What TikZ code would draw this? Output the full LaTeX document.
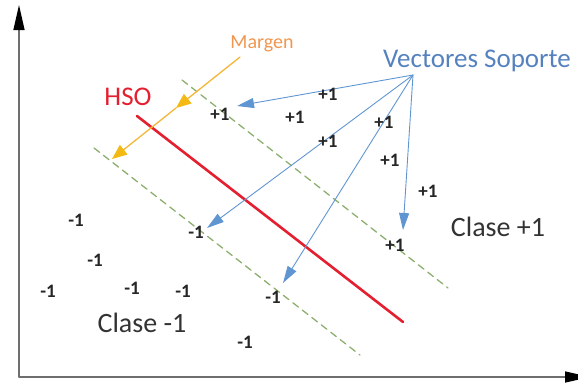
\documentclass[tikz,border=0pt]{standalone}
\usepackage{fontspec}
\setmainfont{Carlito}
\usetikzlibrary{arrows.meta}

\definecolor{rojo}{RGB}{228,32,48}
\definecolor{naranja}{RGB}{240,150,80}
\definecolor{amarillo}{RGB}{245,185,20}
\definecolor{azul}{RGB}{95,150,210}
\definecolor{azultxt}{RGB}{85,130,190}
\definecolor{verde}{RGB}{140,175,110}
\definecolor{gris}{RGB}{110,110,110}

\tikzset{
  etiq/.style={font=\fontsize{19}{21}\selectfont\bfseries, text=black!85, inner sep=1pt},
  clase/.style={font=\fontsize{28}{30}\selectfont, text=black!80},
  vector/.style={azul, line width=0.9pt, -{Triangle[length=17pt,width=10pt]}},
  margen/.style={naranja!70!yellow, line width=1.3pt, -{Triangle[length=15pt,width=12pt,color=amarillo]}},
  frontera/.style={verde, line width=1.3pt, dash pattern=on 7pt off 5pt}
}

\begin{document}
\begin{tikzpicture}[line cap=round,line join=round,x=1pt,y=-1pt]
	\useasboundingbox (0,0) rectangle (578,383);
	%ejes
	\coordinate (O) at (19,377);
	\coordinate (Y) at (19,5);
	\coordinate (X) at (590,377);
	\draw[gris, line width=1.3pt, -{Triangle[length=25pt,width=11pt,color=black]}] (O)--(Y);
	\draw[gris, line width=1.3pt, -{Triangle[length=25pt,width=11pt,color=black]}] (O)--(X);
	%fronteras del margen
	\coordinate (Fa) at (182,80);
	\coordinate (Fb) at (448,288);
	\coordinate (Fc) at (94,148);
	\coordinate (Fd) at (360,355);
	\draw[frontera] (Fa)--(Fb);
	\draw[frontera] (Fc)--(Fd);
	%hiperplano
	\coordinate (Ha) at (137,116);
	\coordinate (Hb) at (403,322);
	\draw[rojo, line width=2.6pt] (Ha)--(Hb);
	\node[font=\fontsize{27}{29}\selectfont, text=rojo] (hso) at (128,97) {HSO};
	%margen
	\coordinate (Ma) at (240,57);
	\coordinate (Mm) at (176,108);
	\coordinate (Mb) at (112,159);
	\draw[margen] (Ma)--(Mm);
	\draw[margen] (Mm)--(Mb);
	\node[font=\fontsize{20}{22}\selectfont, text=naranja] (marg) at (262,44) {Margen};
	%vectores soporte
	\node[font=\fontsize{27}{29}\selectfont, text=azultxt] (vs) at (477,61) {Vectores Soporte};
	\coordinate (S) at (413,75);
	\coordinate (t1) at (237,106);
	\coordinate (t2) at (207,228);
	\coordinate (t3) at (283,283);
	\coordinate (t4) at (403,230);
	\foreach \t in {t1,t2,t3,t4}
		\draw[vector] (S)--(\t);
	%clase +1
	\node[etiq] (p1) at (220,114) {+1};
	\node[etiq] (p2) at (295,117) {+1};
	\node[etiq] (p3) at (328,94) {+1};
	\node[etiq] (p4) at (328,141) {+1};
	\node[etiq] (p5) at (384,122) {+1};
	\node[etiq] (p6) at (390,160) {+1};
	\node[etiq] (p7) at (428,191) {+1};
	\node[etiq] (p8) at (395,245) {+1};
	\node[clase] (c1) at (498,227) {Clase +1};
	%clase -1
	\node[etiq] (n1) at (76,220) {-1};
	\node[etiq] (n2) at (95,260) {-1};
	\node[etiq] (n3) at (48,291) {-1};
	\node[etiq] (n4) at (132,288) {-1};
	\node[etiq] (n5) at (183,291) {-1};
	\node[etiq] (n6) at (196,232) {-1};
	\node[etiq] (n7) at (273,297) {-1};
	\node[etiq] (n8) at (245,342) {-1};
	\node[clase] (c2) at (142,323) {Clase -1};
\end{tikzpicture}
\end{document}
